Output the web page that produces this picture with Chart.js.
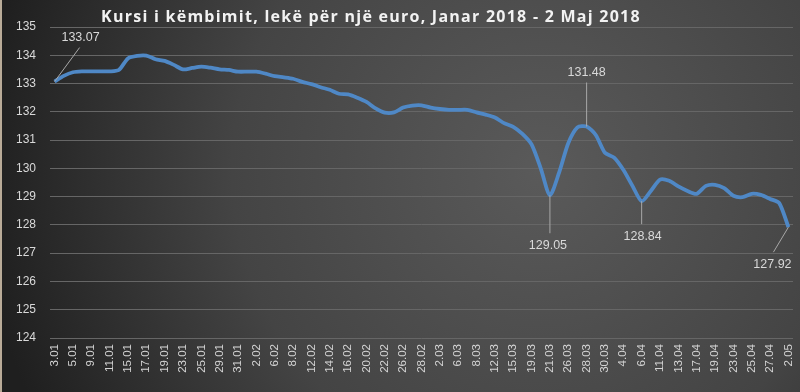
<!DOCTYPE html>
<html>
<head>
<meta charset="utf-8">
<script src="https://cdn.jsdelivr.net/npm/chart.js@4.4.1/dist/chart.umd.min.js"></script>
<style>
html,body{margin:0;padding:0;background:#2a2a2a;}
#wrap{width:800px;height:392px;position:relative;}
</style>
</head>
<body>
<div id="wrap"><canvas id="c" width="800" height="392"></canvas></div>
<script>
const titleText = 'Kursi i këmbimit, lekë për një euro, Janar 2018 - 2 Maj 2018';

const dates = ['3.01','4.01','5.01','8.01','9.01','10.01','11.01','12.01','15.01','16.01','17.01','18.01','19.01','22.01','23.01','24.01','25.01','26.01','29.01','30.01','31.01',
'1.02','2.02','5.02','6.02','7.02','8.02','9.02','12.02','13.02','14.02','15.02','16.02','19.02','20.02','21.02','22.02','23.02','26.02','27.02','28.02',
'1.03','2.03','5.03','6.03','7.03','8.03','9.03','12.03','13.03','15.03','16.03','19.03','20.03','21.03','23.03','26.03','27.03','28.03','29.03','30.03',
'3.04','4.04','5.04','6.04','10.04','11.04','12.04','13.04','16.04','17.04','18.04','19.04','20.04','23.04','24.04','25.04','26.04','27.04','30.04','2.05'];

const rates = [
133.07,133.27,133.40,133.43,133.43,133.43,133.43,133.48,133.89,133.98,
133.99,133.86,133.80,133.66,133.50,133.55,133.60,133.56,133.50,133.48,
133.42,133.42,133.42,133.35,133.26,133.22,133.17,133.06,132.98,132.87,
132.78,132.64,132.62,132.50,132.35,132.12,131.97,131.98,132.15,132.22,
132.23,132.15,132.10,132.07,132.07,132.07,131.98,131.90,131.80,131.60,
131.47,131.22,130.85,130.00,129.05,129.85,130.89,131.45,131.48,131.18,
130.55,130.38,129.95,129.38,128.84,129.20,129.60,129.56,129.36,129.20,
129.10,129.38,129.42,129.30,129.03,128.98,129.10,129.06,128.92,128.77,
127.92];

const yTicks = [124,125,126,127,128,129,130,131,132,133,134,135];

// indices of annotated points
const calloutIdx = [0, 54, 58, 64, 80];
// label placement (style): offset of label centre from point, and where the leader ends
const calloutStyle = {
  0:  {dx: 26, dy: -44, lx: 25, ly: -34},
  54: {dx: -2, dy: 50, lx: 0, ly: 38},
  58: {dx: 0,  dy: -54, lx: 0, ly: -44},
  64: {dx: 1,  dy: 35, lx: 0, ly: 23},
  80: {dx: -16, dy: 37, lx: -15, ly: 25}
};

const bgPlugin = {
  id: 'bg',
  beforeDraw(chart) {
    const ctx = chart.ctx;
    const w = chart.width, h = chart.height;
    ctx.save();
    const g = ctx.createRadialGradient(540, 170, 0, 540, 170, 560);
    g.addColorStop(0, '#5a5a5a');
    g.addColorStop(0.55, '#444444');
    g.addColorStop(1, '#1f1f1f');
    ctx.fillStyle = g;
    ctx.fillRect(0, 0, w, h);
    ctx.fillStyle = '#b9ab98';
    ctx.fillRect(0, 0, 2, h);
    // title
    ctx.fillStyle = '#f2f2f2';
    ctx.font = 'bold 16px "Open Sans", sans-serif';
    ctx.textAlign = 'center';
    ctx.textBaseline = 'middle';
    try { ctx.letterSpacing = '1.25px'; } catch(e) {}
    ctx.fillText(titleText, 371, 17);
    try { ctx.letterSpacing = '0px'; } catch(e) {}
    ctx.restore();
  }
};

const calloutPlugin = {
  id: 'callouts',
  afterDatasetsDraw(chart) {
    const ctx = chart.ctx;
    const xs = chart.scales.x, ys = chart.scales.y;
    ctx.save();
    ctx.font = '12.5px "Liberation Sans", Arial, sans-serif';
    ctx.textAlign = 'center';
    ctx.textBaseline = 'middle';
    calloutIdx.forEach(i => {
      const s = calloutStyle[i];
      const px = xs.getPixelForValue(i);
      const py = ys.getPixelForValue(rates[i]);
      ctx.strokeStyle = '#a8a8a8';
      ctx.lineWidth = 1;
      ctx.beginPath();
      ctx.moveTo(px, py);
      ctx.lineTo(px + s.lx, py + s.ly);
      ctx.stroke();
      ctx.fillStyle = '#d9d9d9';
      ctx.fillText(rates[i].toFixed(2), px + s.dx, py + s.dy);
    });
    ctx.restore();
  }
};

new Chart(document.getElementById('c'), {
  type: 'line',
  data: {
    labels: dates,
    datasets: [{
      data: rates,
      borderColor: '#4f88c6',
      borderWidth: 3.8,
      pointRadius: 0,
      tension: 0.25,
      fill: false
    }]
  },
  options: {
    responsive: false,
    animation: false,
    layout: {padding: {top: 27, right: 7, left: 0, bottom: 0}},
    plugins: {legend: {display: false}, tooltip: {enabled: false}, title: {display: false}},
    scales: {
      x: {
        offset: true,
        grid: {display: false, drawTicks: false},
        border: {display: false},
        ticks: {
          autoSkip: false,
          maxRotation: 90,
          minRotation: 90,
          padding: 6,
          color: '#d4d4d4',
          font: {family: '"Liberation Sans", Arial, sans-serif', size: 11.5},
          callback: (v, i) => (i % 2 === 0 ? dates[i] : '')
        },
        afterFit(s) { s.height = 54; s.paddingLeft = 0; s.paddingRight = 0; }
      },
      y: {
        min: 124,
        max: 135,
        afterBuildTicks(s) { s.ticks = yTicks.map(v => ({value: v})); },
        grid: {color: '#666666', lineWidth: 1, drawTicks: false},
        border: {display: false},
        ticks: {
          padding: 14,
          color: '#d9d9d9',
          font: {family: '"Liberation Sans", Arial, sans-serif', size: 12}
        },
        afterFit(s) { s.width = 50; s.paddingTop = 0; s.paddingBottom = 0; }
      }
    }
  },
  plugins: [bgPlugin, calloutPlugin]
});
</script>
</body>
</html>
